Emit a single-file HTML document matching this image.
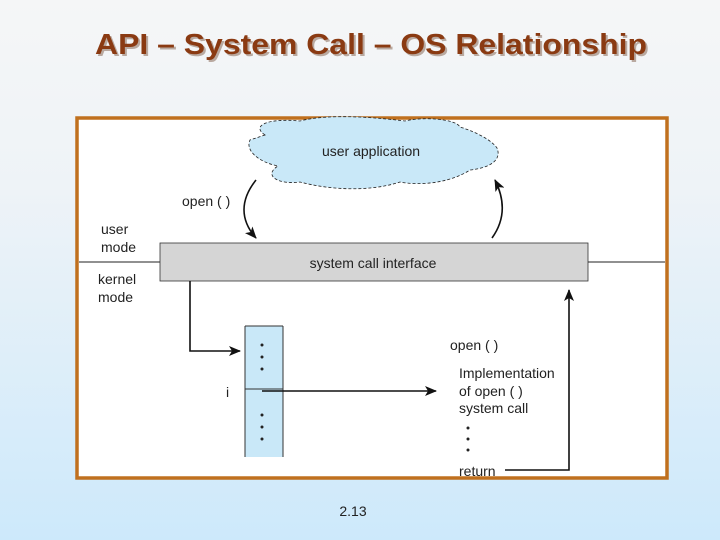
<!DOCTYPE html>
<html><head><meta charset="utf-8"><style>
html,body{margin:0;padding:0;}
body{width:720px;height:540px;overflow:hidden;background:linear-gradient(#f5f6f7 0%,#eef3f7 35%,#cde9fb 100%);font-family:"Liberation Sans",sans-serif;}
</style></head><body>
<svg width="720" height="540" xmlns="http://www.w3.org/2000/svg" style="position:absolute;left:0;top:0">
<defs>
<marker id="a" markerWidth="12" markerHeight="10" refX="11" refY="5" orient="auto" markerUnits="userSpaceOnUse"><path d="M0,0 L12,5 L0,10 L3,5 Z" fill="#111"/></marker>
</defs>
<text x="97" y="56" font-family="Liberation Sans" font-weight="bold" font-size="29" fill="#b9a9a0" textLength="552" lengthAdjust="spacingAndGlyphs">API – System Call – OS Relationship</text>
<text x="95" y="54" font-family="Liberation Sans" font-weight="bold" font-size="29" fill="#8a3a12" textLength="552" lengthAdjust="spacingAndGlyphs">API – System Call – OS Relationship</text>
<rect x="77" y="118" width="590" height="360" fill="#fff" stroke="#c0701e" stroke-width="3.5"/>
<line x1="79" y1="262" x2="665" y2="262" stroke="#222" stroke-width="1"/>
<path d="M265,135 C250,125 270,118 300,121 C330,113 380,118 405,121 C420,117 455,118 460,127 C470,130 490,138 497,148 C502,160 490,168 470,170 C450,183 420,186 400,182 C370,192 330,190 300,182 C280,185 262,176 278,166 C258,162 245,150 250,140 Z" fill="#c9e8f8" stroke="#222" stroke-width="0.8" stroke-dasharray="3,2"/>
<text x="371" y="156" font-size="14" fill="#222" text-anchor="middle">user application</text>
<path d="M256,180 C240,200 240,220 256,238" fill="none" stroke="#111" stroke-width="1.6" marker-end="url(#a)"/>
<path d="M492,238 C505,220 505,200 495,180" fill="none" stroke="#111" stroke-width="1.6" marker-end="url(#a)"/>
<text x="182" y="206" font-size="14" fill="#222">open ( )</text>
<text x="101" y="234" font-size="14" fill="#222">user</text>
<text x="101" y="252" font-size="14" fill="#222">mode</text>
<text x="98" y="284" font-size="14" fill="#222">kernel</text>
<text x="98" y="302" font-size="14" fill="#222">mode</text>
<rect x="160" y="243" width="428" height="38" fill="#d5d5d5" stroke="#333" stroke-width="0.8"/>
<text x="373" y="268" font-size="14" fill="#222" text-anchor="middle">system call interface</text>
<polyline points="190,281 190,351 240,351" fill="none" stroke="#111" stroke-width="1.6" marker-end="url(#a)"/>
<rect x="245" y="326" width="38" height="131" fill="#c9e8f8"/>
<line x1="245" y1="326" x2="245" y2="457" stroke="#333"/>
<line x1="283" y1="326" x2="283" y2="457" stroke="#333"/>
<line x1="245" y1="326" x2="283" y2="326" stroke="#333"/>
<line x1="245" y1="389" x2="283" y2="389" stroke="#333"/>
<g fill="#222"><circle cx="262" cy="345" r="1.5"/><circle cx="262" cy="357" r="1.5"/><circle cx="262" cy="369" r="1.5"/><circle cx="262" cy="415" r="1.5"/><circle cx="262" cy="427" r="1.5"/><circle cx="262" cy="439" r="1.5"/></g>
<text x="226" y="397" font-size="14" fill="#222">i</text>
<line x1="262" y1="391" x2="436" y2="391" stroke="#111" stroke-width="1.6" marker-end="url(#a)"/>
<text x="450" y="350" font-size="14" fill="#222">open ( )</text>
<text x="459" y="378" font-size="14" fill="#222">Implementation</text>
<text x="459" y="396" font-size="14" fill="#222">of open ( )</text>
<text x="459" y="413" font-size="14" fill="#222">system call</text>
<g fill="#222"><circle cx="468" cy="428" r="1.5"/><circle cx="468" cy="439" r="1.5"/><circle cx="468" cy="450" r="1.5"/></g>
<text x="459" y="476" font-size="14" fill="#222">return</text>
<polyline points="505,470 569,470 569,290" fill="none" stroke="#111" stroke-width="1.6" marker-end="url(#a)"/>
<text x="353" y="516" font-size="14" fill="#222" text-anchor="middle">2.13</text>
</svg>
</body></html>
